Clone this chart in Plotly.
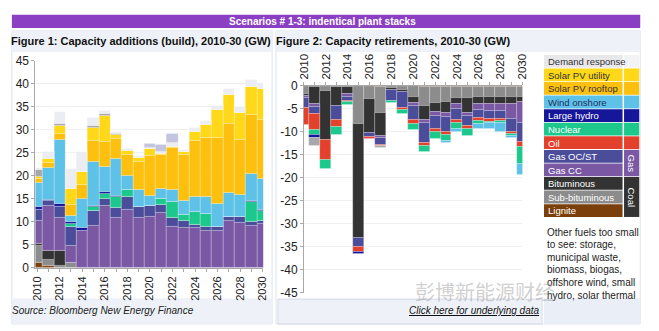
import plotly.graph_objects as go

years = list(range(2010, 2031))
year_ticks = list(range(2010, 2031, 2))
year_tick_text = [str(y) for y in year_ticks]
add_y_ticks = [0, 5, 10, 15, 20, 25, 30, 35, 40, 45]
add_y_text = [str(v) for v in add_y_ticks]
ret_y_ticks = [0, -5, -10, -15, -20, -25, -30, -35, -40, -45]
ret_y_text = ["0", "-5", "-10", "-15", "-20", "-25", "-30", "-35", "-40", "-45"]

# ---- Figure 1: capacity additions (GW) ----
add_lignite  = [1.2, 0.5, 0, 0, 0, 0, 0, 0, 0, 0, 0, 0, 0, 0, 0, 0, 0, 0, 0, 0, 0]
add_subbit   = [3.6, 1.3, 0.6, 1.2, 0, 0, 0, 0, 0, 0, 0, 0, 0, 0, 0, 0, 0, 0, 0, 0, 0]
add_bitum    = [0.4, 1.9, 3.1, 0, 0, 0, 0, 0, 0, 0, 0, 0, 0, 0, 0, 0, 0, 0, 0, 0, 0]
add_gascc    = [5.0, 9.9, 7.3, 3.7, 8.2, 9.2, 13.5, 11.0, 12.7, 11.0, 11.1, 12.0, 9.0, 8.75, 8.7, 8.1, 8.1, 10.3, 9.9, 9.2, 9.7]
add_gasoc    = [2.5, 1.0, 2.4, 4.0, 0, 3.2, 1.5, 2.1, 2.8, 2.4, 2.4, 1.8, 2.0, 1.5, 0.8, 0.9, 0.9, 0.8, 1.2, 0.9, 0.6]
add_oil      = [0] * 21
add_nuclear  = [0, 0, 0, 0.7, 0, 1.0, 1.2, 2.4, 1.5, 0, 0, 1.2, 3.4, 1.4, 2.7, 2.7, 0, 0, 0, 4.3, 2.2]
add_hydro    = [0.7, 0.3, 0.5, 0.4, 0.6, 0.15, 0.4, 0.2, 0, 0, 0, 0.15, 0, 0, 0, 0, 0, 0, 0, 0.2, 0.1]
add_wind     = [5.1, 6.9, 13.9, 1.3, 6.3, 9.5, 5.4, 8.1, 3.0, 3.5, 2.3, 2.05, 2.7, 2.95, 3.3, 3.8, 4.9, 5.3, 4.9, 5.8, 6.7]
add_rooftop  = [0.8, 1.0, 1.4, 2.5, 3.0, 4.5, 5.5, 4.2, 4.7, 6.1, 8.6, 7.3, 9.0, 9.9, 12.1, 12.8, 14.3, 14.9, 11.8, 12.8, 13.0]
add_utility  = [0.6, 0.9, 1.6, 3.5, 2.8, 3.0, 5.6, 1.0, 0.7, 0.9, 1.6, 0.4, 0.3, 0.7, 1.9, 2.8, 6.2, 6.3, 6.0, 6.2, 6.7]
add_other    = [1.5, 0, 0.5, 0, 0, 0.4, 0.5, 0.2, 0, 0, 0, 0, 0, 0, 0, 0, 0, 0, 0, 0, 0]
add_demand   = [0.3, 1.6, 2.6, 4.3, 4.3, 1.6, 0.5, 0.5, 0.6, 0.5, 0.2, 0.3, 0.8, 0.4, 0.9, 0.8, 0.9, 1.4, 1.3, 1.4, 1.3]
add_storage  = [0, 0, 0, 0, 0, 0, 0, 0, 0, 0, 0.8, 1.5, 2.0, 0, 0, 0, 0, 0, 0, 0, 0]

# ---- Figure 2: capacity retirements (GW) ----
ret_lignite  = [0, 0, 0, 0, 0, 0, 0, -0.15, 0, 0, 0, -0.15, -0.15, -0.15, -0.15, -0.15, -0.15, -0.15, -0.15, -0.15, -0.15]
ret_subbit   = [-1.8, -0.3, -1.0, -0.2, -0.2, -8.3, -2.8, -5.7, -0.5, -0.9, -2.4, -4.2, -3.55, -3.35, -2.45, -2.45, -2.35, -2.35, -2.35, -2.35, -2.35]
ret_bitum    = [-0.3, -3.7, -10.7, -4.2, -1.6, -24.8, -7.5, -5.0, -0.3, -0.3, -1.3, -3.15, -2.0, -2.4, -1.4, -3.2, -1.35, -1.35, -1.4, -1.4, -1.0]
ret_gascc    = [-0.6, -0.5, 0, 0, -0.6, 0, 0, -0.4, 0, 0, -0.7, -0.5, -0.9, -0.8, -0.9, -0.7, -1.3, -1.5, -1.5, -3.3, -4.5]
ret_gasoc    = [-2.0, -1.5, 0, -3.1, -0.8, -2.0, -0.9, -1.5, -2.5, -3.5, -3.1, -4.4, -2.8, -3.2, -2.5, -2.1, -1.9, -1.9, -1.8, -2.7, -4.2]
ret_oil      = [-3.8, -3.6, -4.5, -1.5, -0.3, -1.1, -0.3, -0.4, 0, -0.5, -0.7, -0.7, -0.7, -0.8, -0.7, -0.7, -0.6, -0.5, -0.5, -0.6, -1.0]
ret_nuclear  = [0, -1.0, -1.8, -1.6, -0.6, 0, 0, 0, -0.4, -0.9, -1.4, -1.2, -1.5, -1.3, -1.3, -1.5, -0.6, -0.3, -0.3, -0.3, -3.7]
ret_hydro    = [0, -0.8, 0, 0, 0, -0.4, 0, 0, 0, 0, 0, 0, 0, 0, 0, 0, 0, 0, 0, 0, 0]
ret_wind     = [0, 0, 0, 0, 0, 0, 0, 0, 0, 0, 0, 0, 0, -0.4, -0.7, 0, -1.2, -1.2, -1.9, -0.5, -2.4]
ret_other    = [0, -1.6, 0, 0, 0, 0, 0, -0.3, 0, 0, 0, 0, 0, 0, 0, 0, 0, 0, 0, 0, 0]

series = [
    ("Lignite", "#7B3F0B", add_lignite, ret_lignite),
    ("Sub-bituminous", "#8C8C8C", add_subbit, ret_subbit),
    ("Bituminous", "#333333", add_bitum, ret_bitum),
    ("Gas CC", "#7A58A4", add_gascc, ret_gascc),
    ("Gas OC/ST", "#4B4C9A", add_gasoc, ret_gasoc),
    ("Oil", "#E3412B", add_oil, ret_oil),
    ("Nuclear", "#1DC88C", add_nuclear, ret_nuclear),
    ("Large hydro", "#15169A", add_hydro, ret_hydro),
    ("Wind onshore", "#5DC1E8", add_wind, ret_wind),
    ("Solar PV rooftop", "#FDC00F", add_rooftop, None),
    ("Solar PV utility", "#FFD81A", add_utility, None),
    ("Other", "#A8A8AC", add_other, ret_other),
    ("Demand response", "#ECEDF2", add_demand, None),
    ("Storage", "#C3C5E0", add_storage, None),
]

W, H = 659, 331
def X(px):
    return px / W
def Y(py):
    return 1 - py / H

FONT = "Liberation Sans, Arial, sans-serif"

fig = go.Figure()
for name, color, add, ret in series:
    fig.add_trace(go.Bar(x=years, y=add, name=name, marker_color=color, width=1,
                         marker_line=dict(color="rgba(255,255,255,0.45)", width=0.5),
                         xaxis="x", yaxis="y", showlegend=False))
    if ret is not None:
        fig.add_trace(go.Bar(x=years, y=ret, name=name, marker_color=color, width=1,
                             marker_line=dict(color="rgba(255,255,255,0.45)", width=0.5),
                             xaxis="x2", yaxis="y2", showlegend=False))

axis_line = dict(showline=True, linecolor="#A8A8A8", linewidth=1, ticks="outside",
                 tickcolor="#A8A8A8", ticklen=3, zeroline=False)
minor_ticks = dict(dtick=1, tick0=2010, ticks="outside", ticklen=3, tickcolor="#A8A8A8")

fig.update_layout(
    width=W, height=H, margin=dict(l=0, r=0, t=0, b=0),
    paper_bgcolor="white", plot_bgcolor="white",
    barmode="relative", bargap=0,
    font=dict(family=FONT, color="#222"),
    xaxis=dict(domain=[X(30), X(262)], range=[2009.85, 2030.05], anchor="y",
               tickvals=year_ticks, ticktext=year_tick_text, tickangle=-90,
               showgrid=False, minor=minor_ticks, **axis_line,
               tickfont=dict(family=FONT, size=11, color="#222")),
    yaxis=dict(domain=[Y(272.5), Y(56)], range=[0, 45], anchor="x",
               tickvals=add_y_ticks, ticktext=add_y_text, showgrid=True, gridcolor="#F0F0F0",
               **axis_line, tickfont=dict(family=FONT, size=12, color="#222")),
    xaxis2=dict(domain=[X(303.5), X(526)], range=[2010, 2030], anchor="y2", side="top",
                tickvals=year_ticks, ticktext=year_tick_text, tickangle=-90,
                showgrid=False, minor=minor_ticks, **axis_line,
                tickfont=dict(family=FONT, size=11.5, color="#222")),
    yaxis2=dict(domain=[Y(298.3), Y(82.3)], range=[-45, 0], anchor="x2",
                tickvals=ret_y_ticks, ticktext=ret_y_text, showgrid=True, gridcolor="#F0F0F0",
                **axis_line, tickfont=dict(family=FONT, size=12, color="#222")),
)

shapes = []
annotations = []

def rect(x0, y0, x1, y1, fill, line=None, layer="below"):
    shapes.append(dict(type="rect", xref="paper", yref="paper",
                       x0=X(x0), x1=X(x1), y0=Y(y1), y1=Y(y0),
                       fillcolor=fill, line=dict(width=1 if line else 0, color=line or fill),
                       layer=layer))

def text(x, y, s, size=10, color="#222", xanchor="left", bold=False, italic=False, angle=0, family=FONT):
    if bold:
        s = "<b>" + s + "</b>"
    if italic:
        s = "<i>" + s + "</i>"
    annotations.append(dict(xref="paper", yref="paper", x=X(x), y=Y(y), text=s,
                            showarrow=False, xanchor=xanchor, yanchor="middle",
                            textangle=angle, borderpad=0,
                            font=dict(family=family, size=size, color=color)))

# panels
rect(6, 25, 271, 331, "white", line="#DDE3EC")
rect(275, 25, 646, 331, "white", line="#DDE3EC")
rect(6, 25, 271, 47, "#EEF2F8")
rect(275, 25, 646, 47, "#EEF2F8")
rect(6, 304, 271, 331, "#EEF2F8")
rect(277, 305, 546, 331, "#EEF2F8", line="#D3D9E3")
rect(548, 304, 646, 331, "#E9EEF7")
# banner
rect(6, 8, 646, 22, "#8B3FC3")
text(322, 15, "Scenarios # 1-3: indentical plant stacks", size=10, color="white", xanchor="center", bold=True)
text(4, 36, "Figure 1: Capacity additions (build), 2010-30 (GW)", size=11, color="#111", bold=True)
text(274, 36, "Figure 2: Capacity retirements, 2010-30 (GW)", size=11, color="#111", bold=True)
text(5, 317, "Source: Bloomberg New Energy Finance", size=10, color="#222", italic=True)
text(477, 317, "<u>Click here for underlying data</u>", size=10, color="#111", xanchor="center", italic=True)

# legend table
legend_rows = [
    ("Demand response", "#E8E8EA", "#333", "#F3F3F5"),
    ("Solar PV utility", "#FFD81A", "#333", "#FFD81A"),
    ("Solar PV rooftop", "#FDC00F", "#333", "#FDC00F"),
    ("Wind onshore", "#5DC1E8", "#1F2F5F", "#5DC1E8"),
    ("Large hydro", "#15169A", "white", "#15169A"),
    ("Nuclear", "#1DC88C", "white", "#1DC88C"),
    ("Oil", "#E3412B", "white", "#E3412B"),
    ("Gas OC/ST", "#4B4C9A", "white", None),
    ("Gas CC", "#7A58A4", "white", None),
    ("Bituminous", "#333333", "white", None),
    ("Sub-bituminous", "#8C8C8C", "white", None),
    ("Lignite", "#7B3F0B", "white", None),
]
row_h = 14.17
top0 = 50
for i, (lab, bg, fg, sw) in enumerate(legend_rows):
    y0 = top0 + i * row_h
    rect(548, y0, 628, y0 + row_h - 0.8, bg, layer="above")
    if sw:
        rect(629.5, y0, 645, y0 + row_h - 0.8, sw, layer="above")
    text(551, y0 + row_h / 2, lab, size=9.5, color=fg)
# group cells
gy0 = top0 + 7 * row_h
rect(629.5, gy0, 645, gy0 + 2 * row_h - 0.8, "#7A58A4", layer="above")
text(637.5, gy0 + row_h, "Gas", size=9.5, color="white", xanchor="center", angle=90)
cy0 = top0 + 9 * row_h
rect(629.5, cy0, 645, cy0 + 3 * row_h - 0.8, "#333333", layer="above")
text(637.5, cy0 + 1.5 * row_h, "Coal", size=9.5, color="white", xanchor="center", angle=90)

note_lines = ["Other fuels too small", "to see: storage,", "municipal waste,",
              "biomass, biogas,", "offshore wind, small", "hydro, solar thermal"]
for i, ln in enumerate(note_lines):
    text(550, 235 + i * 13.2, ln, size=10, color="#222")

# watermark
text(488, 297, "彭博新能源财经", size=20, color="rgba(150,150,150,0.45)", xanchor="center",
     family="Noto Sans CJK SC")

fig.update_layout(shapes=shapes, annotations=annotations)
fig.write_html("out.html")
